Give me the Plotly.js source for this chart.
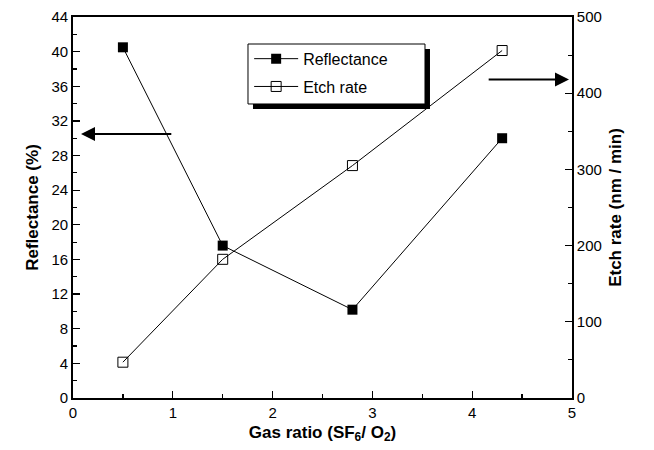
<!DOCTYPE html>
<html>
<head>
<meta charset="utf-8">
<script src="https://cdn.plot.ly/plotly-3.0.1.min.js"></script>
<style>body{margin:0;background:#fff}#c{width:654px;height:450px}</style>
</head>
<body>
<div id="c"></div>
<script>
const gasRatio = [0.5, 1.5, 2.8, 4.3];
const reflectance = [40.5, 17.6, 10.2, 30.0];
const etchRate = [47, 182, 305, 456];
const reflTicks = [0, 4, 8, 12, 16, 20, 24, 28, 32, 36, 40, 44];
const etchTicks = [0, 100, 200, 300, 400, 500];
const xTicks = [0, 1, 2, 3, 4, 5];

const fontFam = 'Liberation Sans, Arial, sans-serif';

const traces = [
  {x: gasRatio, y: reflectance, name: 'Reflectance', type: 'scatter', mode: 'lines+markers', legendgroup: 'a',
   line: {color: '#000', width: 1}, marker: {symbol: 'square', size: 10, color: '#000'}, yaxis: 'y'},
  {x: gasRatio, y: etchRate, name: 'Etch rate', type: 'scatter', mode: 'lines+markers', legendgroup: 'b',
   line: {color: '#000', width: 1}, marker: {symbol: 'square-open', size: 10, color: '#000', line: {width: 1}}, yaxis: 'y2'}
];

const layout = {
  width: 654, height: 450,
  margin: {l: 73, r: 82, t: 17, b: 52},
  paper_bgcolor: '#fff', plot_bgcolor: '#fff',
  font: {family: fontFam, size: 15, color: '#000'},
  showlegend: true,
  legend: {x: 0.353, y: 0.935, xanchor: 'left', yanchor: 'top', bgcolor: 'rgba(0,0,0,0)',
           borderwidth: 0, font: {size: 16}, tracegroupgap: 4, itemwidth: 44},
  xaxis: {range: [0, 5], tickvals: xTicks, ticks: 'inside', ticklen: 7, tickcolor: '#000', tickwidth: 1.2,
          showline: true, linecolor: '#000', linewidth: 1.8, mirror: true, showgrid: false, zeroline: false,
          minor: {dtick: 0.5, ticks: 'inside', ticklen: 4, tickcolor: '#000'},
          title: {text: 'Gas ratio (SF<sub>6</sub>/ O<sub>2</sub>)', font: {size: 17, weight: 'bold'}, standoff: 6}},
  yaxis: {range: [0, 44], tickvals: reflTicks, ticks: 'inside', ticklen: 7, tickcolor: '#000', tickwidth: 1.2,
          showline: true, linecolor: '#000', linewidth: 1.8, showgrid: false, zeroline: false,
          minor: {dtick: 2, ticks: 'inside', ticklen: 4, tickcolor: '#000'},
          title: {text: 'Reflectance (%)', font: {size: 17, weight: 'bold'}, standoff: 8}},
  yaxis2: {range: [0, 500], tickvals: etchTicks, overlaying: 'y', side: 'right', ticks: 'inside', ticklen: 7, tickcolor: '#000', tickwidth: 1.2,
          showline: true, linecolor: '#000', linewidth: 1.8, showgrid: false, zeroline: false,
          minor: {dtick: 50, ticks: 'inside', ticklen: 4, tickcolor: '#000'},
          title: {text: 'Etch rate (nm / min)', font: {size: 17, weight: 'bold'}, standoff: 8}},
  shapes: [
    {type: 'rect', xref: 'paper', yref: 'paper', x0: 0.3607, x1: 0.7154, y0: 0.7585, y1: 0.916,
     fillcolor: '#000', line: {width: 0}, layer: 'above'},
    {type: 'rect', xref: 'paper', yref: 'paper', x0: 0.3507, x1: 0.7054, y0: 0.7717, y1: 0.9291,
     fillcolor: '#fff', line: {width: 1, color: '#000'}, layer: 'above'}
  ],
  annotations: [
    {x: 0.08, y: 30.5, ax: 1.0, ay: 30.5, xref: 'x', yref: 'y', axref: 'x', ayref: 'y',
     showarrow: true, arrowhead: 2, arrowsize: 1.4, arrowwidth: 2, arrowcolor: '#000', text: ''},
    {x: 4.97, y: 418, ax: 4.15, ay: 418, xref: 'x', yref: 'y2', axref: 'x', ayref: 'y2',
     showarrow: true, arrowhead: 2, arrowsize: 1.4, arrowwidth: 2, arrowcolor: '#000', text: ''}
  ]
};

Plotly.newPlot('c', traces, layout, {displayModeBar: false, staticPlot: true});
</script>
</body>
</html>
